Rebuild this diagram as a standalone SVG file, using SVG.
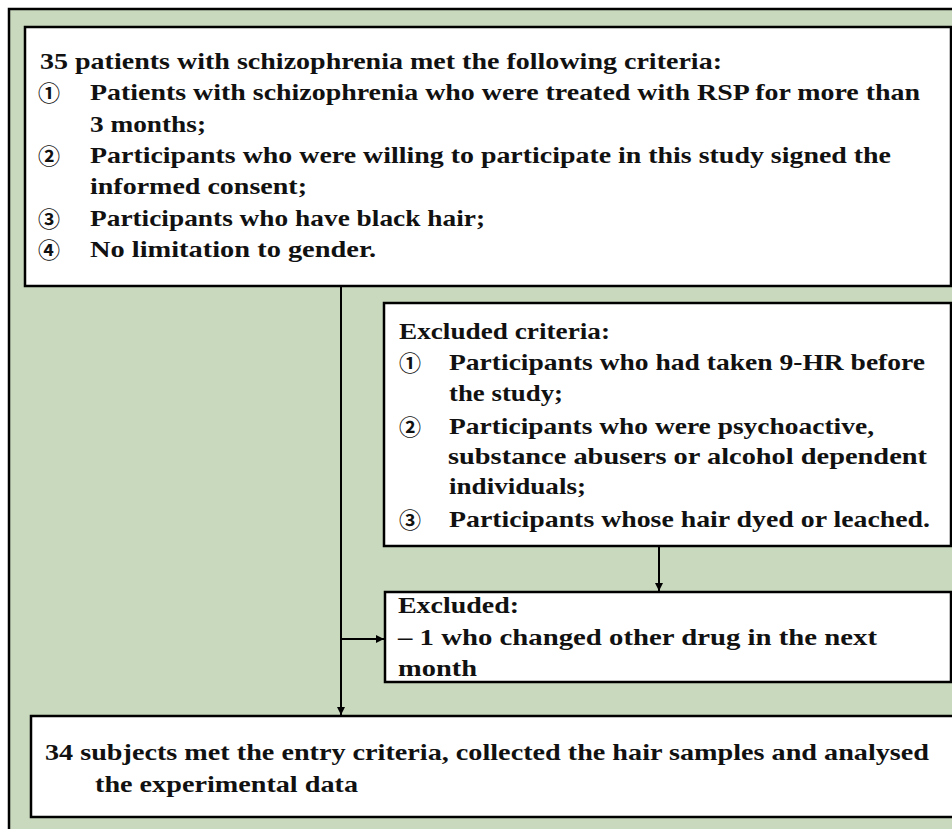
<svg xmlns="http://www.w3.org/2000/svg" width="952" height="829" viewBox="0 0 952 829">
<style>
.box{fill:#fff;stroke:#000;stroke-width:2.5}
.t{font-family:"Liberation Serif","DejaVu Serif",serif;font-weight:bold;font-size:23px;fill:#111}
.n{font-family:"Noto Sans CJK SC","DejaVu Sans",sans-serif;font-weight:bold;font-size:22px;fill:#111}
.c{stroke:#000;stroke-width:2;fill:none}
</style>
<defs>
<marker id="ah" viewBox="0 0 10 10" refX="10" refY="5" markerWidth="10" markerHeight="8" markerUnits="userSpaceOnUse" orient="auto">
<path d="M0,0 L10,5 L0,10 Z" fill="#000"/>
</marker>
</defs>
<rect x="0" y="0" width="952" height="829" fill="#fff"/>
<rect id="frame" x="9" y="9" width="960" height="840" fill="#C9D9BD" stroke="#000" stroke-width="2.5"/>
<g id="connectors">
<line class="c" x1="341" y1="286" x2="341" y2="715" marker-end="url(#ah)"/>
<line class="c" x1="341" y1="639" x2="384" y2="639" marker-end="url(#ah)"/>
<line class="c" x1="659" y1="546" x2="659" y2="591" marker-end="url(#ah)"/>
</g>
<g id="inclusion">
<rect class="box" x="25" y="27" width="926" height="259"/>
<text class="t" x="40" y="69" textLength="682" lengthAdjust="spacingAndGlyphs">35 patients with schizophrenia met the following criteria:</text>
<text class="n" x="38" y="101">①</text>
<text class="t" x="90" y="100" textLength="830" lengthAdjust="spacingAndGlyphs">Patients with schizophrenia who were treated with RSP for more than</text>
<text class="t" x="90" y="132" textLength="116" lengthAdjust="spacingAndGlyphs">3 months;</text>
<text class="n" x="38" y="164">②</text>
<text class="t" x="90" y="163" textLength="801" lengthAdjust="spacingAndGlyphs">Participants who were willing to participate in this study signed the</text>
<text class="t" x="90" y="194" textLength="217" lengthAdjust="spacingAndGlyphs">informed consent;</text>
<text class="n" x="38" y="227">③</text>
<text class="t" x="90" y="226" textLength="395" lengthAdjust="spacingAndGlyphs">Participants who have black hair;</text>
<text class="n" x="38" y="258">④</text>
<text class="t" x="90" y="257" textLength="286" lengthAdjust="spacingAndGlyphs">No limitation to gender.</text>
</g>
<g id="exclusion-criteria">
<rect class="box" x="384" y="303" width="567" height="243"/>
<text class="t" x="399" y="339" textLength="211" lengthAdjust="spacingAndGlyphs">Excluded criteria:</text>
<text class="n" x="399" y="371">①</text>
<text class="t" x="449" y="370" textLength="476" lengthAdjust="spacingAndGlyphs">Participants who had taken 9-HR before</text>
<text class="t" x="449" y="401" textLength="114" lengthAdjust="spacingAndGlyphs">the study;</text>
<text class="n" x="399" y="435">②</text>
<text class="t" x="449" y="434" textLength="425" lengthAdjust="spacingAndGlyphs">Participants who were  psychoactive,</text>
<text class="t" x="448" y="464" textLength="479" lengthAdjust="spacingAndGlyphs">substance abusers or alcohol dependent</text>
<text class="t" x="449" y="494" textLength="137" lengthAdjust="spacingAndGlyphs">individuals;</text>
<text class="n" x="399" y="528">③</text>
<text class="t" x="449" y="527" textLength="481" lengthAdjust="spacingAndGlyphs">Participants whose hair dyed or leached.</text>
</g>
<g id="excluded">
<rect class="box" x="385" y="592" width="566" height="90"/>
<text class="t" x="398" y="613" textLength="121" lengthAdjust="spacingAndGlyphs">Excluded:</text>
<text class="t" x="398" y="645" textLength="479" lengthAdjust="spacingAndGlyphs">– 1 who changed other drug in the next</text>
<text class="t" x="398" y="676" textLength="79" lengthAdjust="spacingAndGlyphs">month</text>
</g>
<g id="final">
<rect class="box" x="31" y="716" width="940" height="101"/>
<text class="t" x="45" y="760" textLength="884" lengthAdjust="spacingAndGlyphs">34 subjects met the entry criteria, collected the hair samples and analysed</text>
<text class="t" x="95" y="792" textLength="263" lengthAdjust="spacingAndGlyphs">the experimental data</text>
</g>
</svg>
